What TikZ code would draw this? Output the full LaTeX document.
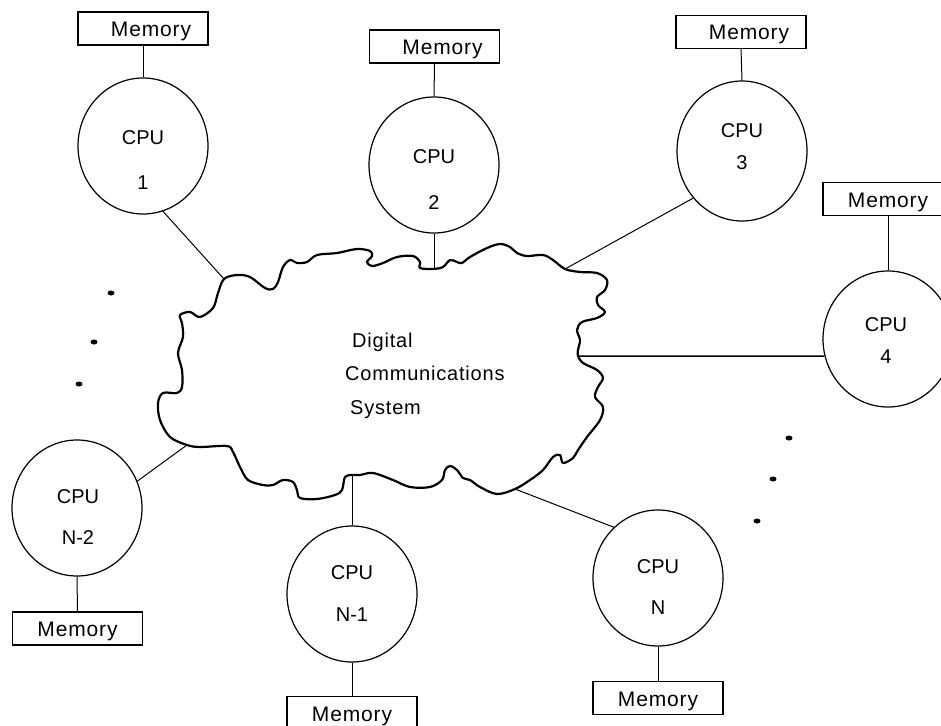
\documentclass[tikz,border=0pt]{standalone}
\usepackage{fontspec}
\setmainfont{Liberation Sans}
\usetikzlibrary{shapes.geometric}
\tikzset{
  cpu/.style={draw, ellipse, line width=1.2pt, minimum width=130pt, minimum height=136pt, inner sep=0pt},
  mem/.style={draw, rectangle, line width=1.2pt, minimum width=130pt, minimum height=33pt, inner sep=0pt,
              font=\fontsize{21}{24}\selectfont\addfontfeatures{LetterSpace=4}, text height=18pt, text depth=2pt},
  lbl/.style={inner sep=0pt, font=\fontsize{20}{24}\selectfont},
  ctext/.style={inner sep=0pt, font=\fontsize{20}{24}\selectfont\addfontfeatures{LetterSpace=4}},
  conn/.style={line width=1pt},
  cloudline/.style={line width=2.2pt, line join=round},
  dot/.style={fill=black}
}
\begin{document}
\begin{tikzpicture}[x=1pt, y=-1pt]
\clip (0,0) rectangle (941,725);
\fill[white] (0,0) rectangle (941,725);

% cloud
\draw[cloudline] plot[smooth cycle, tension=0.55] coordinates {
(224,279) (237,275) (250,277) (265,288) (273,289) (278,282) (283,267) (290,260) (297,263) (307,262) (317,255) (337,253) (357,249) (370,251) (372,256) (367,262) (372,266) (383,263) (397,257) (413,256) (420,262) (420,268) (433,269) (443,267) (450,260) (457,262) (462,263) (470,257) (487,248) (500,244) (510,247) (517,253) (527,256) (543,255) (553,260) (565,269) (580,272) (597,273) (607,280) (605,290) (597,297) (598,305) (605,312) (597,318) (582,322) (577,330) (580,340) (578,350) (578,356) (583,363) (597,370) (603,378) (598,387) (595,397) (603,407) (600,420) (587,437) (578,450) (573,458) (563,463) (560,455) (553,457) (543,470) (530,480) (515,489) (497,494) (480,487) (470,480) (463,478) (457,470) (450,466) (445,470) (442,480) (430,487) (410,487) (393,480) (373,473) (360,475) (352,475) (345,477) (342,490) (335,495) (317,499) (300,498) (297,490) (293,482) (283,480) (273,485) (263,485) (248,480) (240,467) (233,452) (227,446) (200,447) (187,445) (170,437) (160,420) (158,403) (163,393) (177,393) (182,387) (182,370) (178,353) (183,337) (182,323) (180,315) (190,312) (200,317) (213,308) (218,293)};

\node[ctext, anchor=base west] (t1) at (352,347) {Digital};
\node[ctext, anchor=base west] (t2) at (345,380) {Communications};
\node[ctext, anchor=base west] (t3) at (350,414) {System};

% junctions on the cloud
\coordinate (j1) at (224,279);
\coordinate (j2) at (434,269);
\coordinate (j3) at (565,269);
\coordinate (j4) at (578,356);
\coordinate (jN) at (515,489);
\coordinate (jN1) at (352,475);
\coordinate (jN2) at (187,445);

% CPUs
\node[cpu] (c1) at (143,146) {};
\node[cpu] (c2) at (434,165) {};
\node[cpu, minimum height=140pt] (c3) at (742,151) {};
\node[cpu] (c4) at (888,339) {};
\node[cpu] (cN2) at (77,508) {};
\node[cpu] (cN1) at (352,594) {};
\node[cpu] (cN) at (658,578) {};

\node[lbl] (c1a) at (143,138) {CPU};
\node[lbl] (c1b) at (143,183) {1};
\node[lbl] (c2a) at (434,157) {CPU};
\node[lbl] (c2b) at (434,203) {2};
\node[lbl] (c3a) at (742,131) {CPU};
\node[lbl] (c3b) at (742,163) {3};
\node[lbl] (c4a) at (886,325) {CPU};
\node[lbl] (c4b) at (886,357) {4};
\node[lbl] (cN2a) at (78,497) {CPU};
\node[lbl] (cN2b) at (78,538) {N-2};
\node[lbl] (cN1a) at (352,573) {CPU};
\node[lbl] (cN1b) at (352,615) {N-1};
\node[lbl] (cNa) at (658,567) {CPU};
\node[lbl] (cNb) at (658,608) {N};

% Memories
\node[mem] (m1) at (143,28.5) {\hspace*{16pt}Memory};
\node[mem] (m2) at (434.5,46.5) {\hspace*{16pt}Memory};
\node[mem] (m3) at (741,32) {\hspace*{16pt}Memory};
\node[mem] (m4) at (888,199) {Memory};
\node[mem] (mN2) at (77.5,628.5) {Memory};
\node[mem] (mN1) at (352,713) {Memory};
\node[mem] (mN) at (658,698) {Memory};

% memory links
\draw[conn] (m1.south) -- (c1.north);
\draw[conn] (m2.south) -- (c2.north);
\draw[conn] (m3.south) -- (c3.north);
\draw[conn] (m4.south) -- (c4.north);
\draw[conn] (cN2.south) -- (mN2.north);
\draw[conn] (cN1.south) -- (mN1.north);
\draw[conn] (cN.south) -- (mN.north);

% links to the cloud
\draw[conn] (c1.-73) -- (j1);
\draw[conn] (c2.south) -- (j2);
\draw[conn] (c3.224) -- (j3);
\draw[conn, line width=1.5pt] (c4.195) -- (j4);
\draw[conn] (cN2.24) -- (jN2);
\draw[conn] (cN1.north) -- (jN1);
\draw[conn] (cN.131) -- (jN);

% dots
\fill[dot] (111,293) ellipse [x radius=3.5pt, y radius=2.5pt];
\fill[dot] (94,342) ellipse [x radius=3.5pt, y radius=2.5pt];
\fill[dot] (79,384) ellipse [x radius=3.5pt, y radius=2.5pt];
\fill[dot] (789,438) ellipse [x radius=3.5pt, y radius=2.5pt];
\fill[dot] (773,479) ellipse [x radius=3.5pt, y radius=2.5pt];
\fill[dot] (757,521) ellipse [x radius=3.5pt, y radius=2.5pt];
\end{tikzpicture}
\end{document}
